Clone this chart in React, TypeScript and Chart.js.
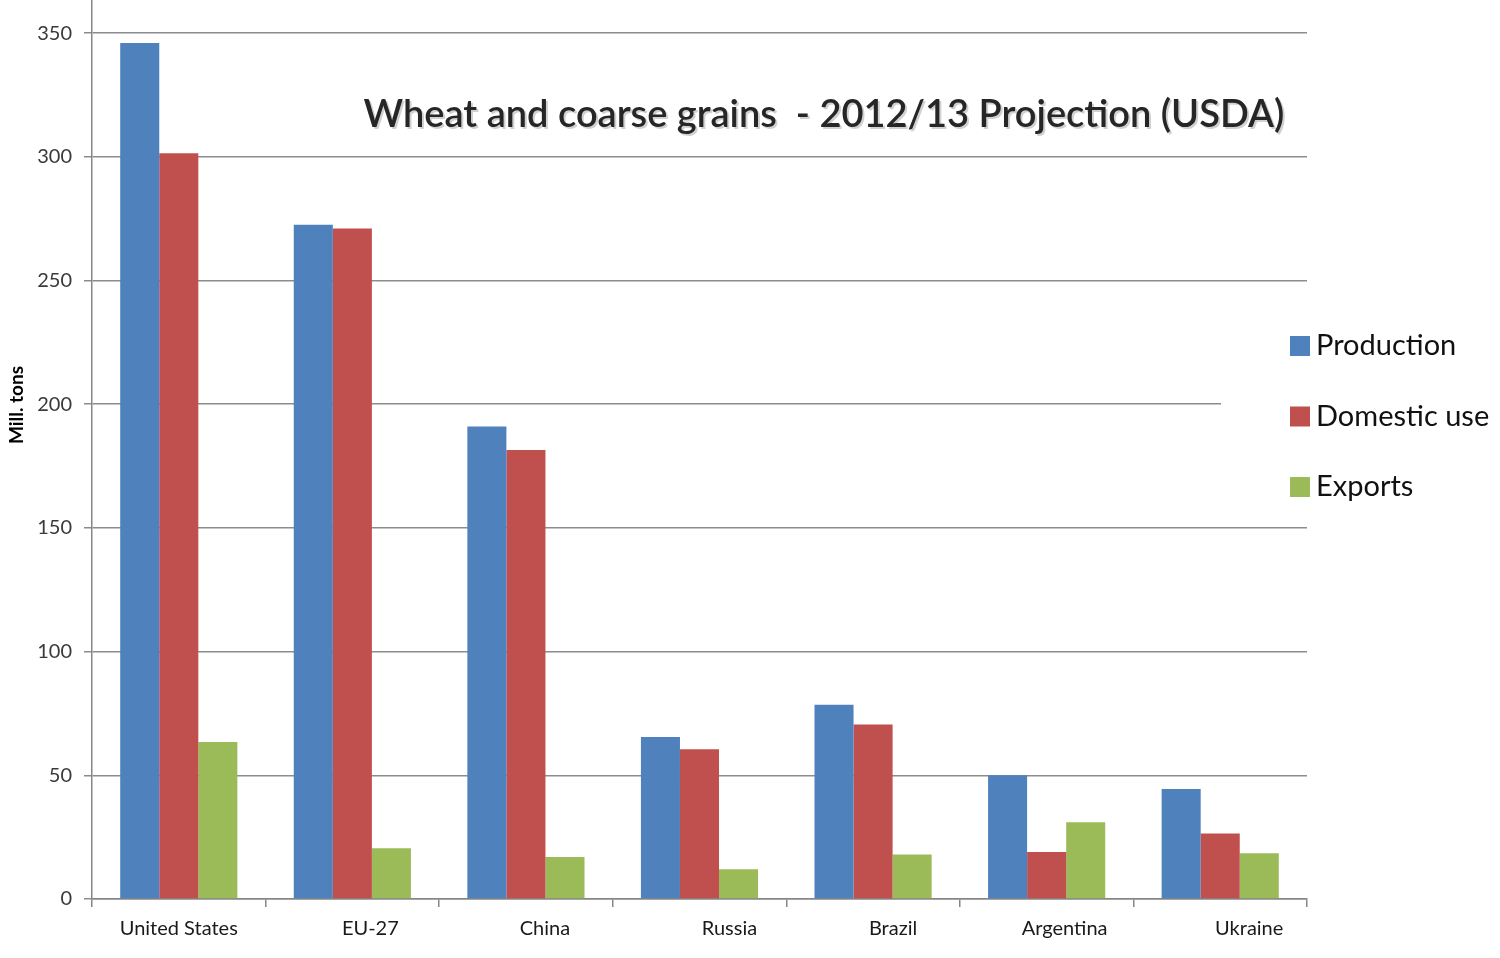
import React, { useEffect, useRef } from "react";
import { Chart, registerables } from "chart.js";

Chart.register(...registerables);

const categories = ["United States", "EU-27", "China", "Russia", "Brazil", "Argentina", "Ukraine"];
const production = [346, 272.5, 191, 65.5, 78.5, 50, 44.5];
const domesticUse = [301.5, 271, 181.5, 60.5, 70.5, 19, 26.5];
const exports = [63.5, 20.5, 17, 12, 18, 31, 18.5];
const yTicks = [0, 50, 100, 150, 200, 250, 300, 350];
const titleText = "Wheat and coarse grains  - 2012/13 Projection (USDA)";
const yAxisTitle = "Mill. tons";

const seriesNames = ["Production", "Domestic use", "Exports"];
const seriesColors = ["#4F81BD", "#C0504D", "#9BBB59"];
// horizontal nudges of the category labels (as in the original, where labels sit right of centre)
const labelShift = [0, 18, 19, 30, 20, 18, 29];

const FONT = "Lato, 'Open Sans', sans-serif";

const overlayPlugin = {
  id: "overlay",
  afterDraw(chart: any) {
    const ctx = chart.ctx;
    const area = chart.chartArea;
    const xs = chart.scales.x;
    ctx.save();
    // category labels
    ctx.font = `20px ${FONT}`;
    ctx.fillStyle = "#1a1a1a";
    ctx.textAlign = "center";
    ctx.textBaseline = "middle";
    categories.forEach((c, i) => {
      ctx.fillText(c, xs.getPixelForTick(i) + labelShift[i], area.bottom + 30);
    });
    // y-axis title
    ctx.save();
    ctx.translate(17, 405);
    ctx.rotate(-Math.PI / 2);
    ctx.font = `bold 19px ${FONT}`;
    ctx.fillStyle = "#000";
    ctx.fillText(yAxisTitle, 0, 0);
    ctx.restore();
    // title inside the plot
    ctx.font = `600 38px ${FONT}`;
    ctx.textAlign = "center";
    ctx.fillStyle = "rgba(0,0,0,0.18)";
    const tx = 824;
    ctx.fillText(titleText, tx + 2, 117);
    ctx.fillStyle = "#262626";
    ctx.fillText(titleText, tx, 115);
    // legend
    const lx = area.right - 17;
    ctx.fillStyle = "#ffffff";
    ctx.fillRect(area.right - 86, 330, 1500, 175);
    ctx.font = `29px ${FONT}`;
    ctx.textAlign = "left";
    seriesNames.forEach((name, i) => {
      const cy = 346 + i * 70.5;
      ctx.fillStyle = seriesColors[i];
      ctx.fillRect(lx, cy - 10, 20, 20);
      ctx.fillStyle = "#111111";
      ctx.fillText(name, lx + 26, cy);
    });
    ctx.restore();
  },
};

export default function App() {
  const ref = useRef<HTMLCanvasElement>(null);
  useEffect(() => {
    document.body.style.margin = "0";
    const chart = new Chart(ref.current!, {
      type: "bar",
      data: {
        labels: categories,
        datasets: [
          { label: seriesNames[0], data: production, backgroundColor: seriesColors[0] },
          { label: seriesNames[1], data: domesticUse, backgroundColor: seriesColors[1] },
          { label: seriesNames[2], data: exports, backgroundColor: seriesColors[2] },
        ],
      },
      options: {
        animation: false,
        responsive: false,
        maintainAspectRatio: false,
        layout: { padding: { top: 0, right: 193, left: 0, bottom: 0 } },
        plugins: { legend: { display: false }, title: { display: false }, tooltip: { enabled: false } },
        datasets: { bar: { categoryPercentage: 0.675, barPercentage: 1 } },
        scales: {
          x: {
            grid: { offset: true, drawOnChartArea: false, drawTicks: true, tickLength: 8, color: "#868686", lineWidth: 1.5 },
            border: { color: "#868686", width: 1.5 },
            ticks: { display: false },
            afterFit: (s: any) => { s.height = 59; s.paddingLeft = 0; s.paddingRight = 0; },
          },
          y: {
            min: 0,
            max: 363.4,
            afterBuildTicks: (s: any) => { s.ticks = yTicks.map((v) => ({ value: v })); },
            ticks: { color: "#3a3a3a", font: { family: FONT, size: 20 }, padding: 12 },
            grid: { color: "#8c8c8c", lineWidth: 1.5, tickLength: 8 },
            border: { color: "#868686", width: 1.5 },
            afterFit: (s: any) => { s.width = 92; s.paddingTop = 0; s.paddingBottom = 0; },
          },
        },
      },
      plugins: [overlayPlugin],
    });
    return () => chart.destroy();
  }, []);
  return <canvas ref={ref} width={1500} height={958} style={{ display: "block" }} />;
}
